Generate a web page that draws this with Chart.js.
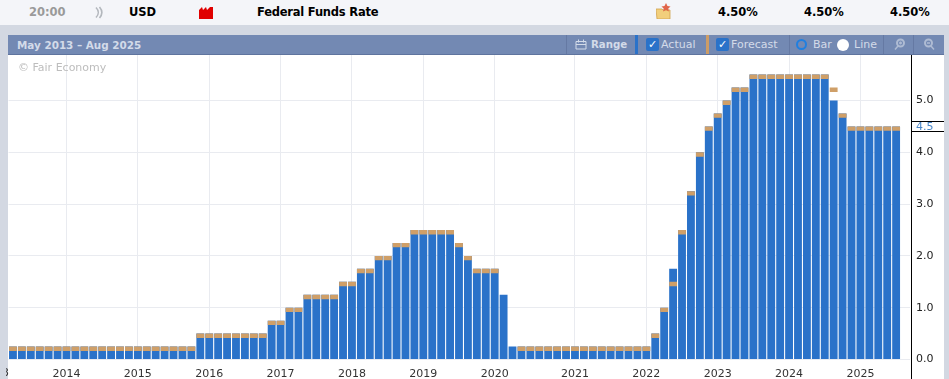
<!DOCTYPE html>
<html><head><meta charset="utf-8">
<script src="https://cdn.jsdelivr.net/npm/chart.js@4"></script>
<style>
html,body{margin:0;padding:0;width:949px;height:379px;overflow:hidden;background:#d3d8e2;font-family:"DejaVu Sans",sans-serif}
.abs{position:absolute;white-space:nowrap}
#top{left:0;top:0;width:949px;height:25px;background:#f4f5f9}
.t{top:5px;font-size:11.5px;font-weight:bold;color:#000;line-height:14px}
#bar{left:8px;top:35px;width:936px;height:19px;background:#7389b3;border-bottom:1px solid #5f749e}
.h{top:37px;font-size:11px;line-height:16px;color:#d3dbe9}
.sep{top:35px;width:1px;height:19px;background:#6579a3}
.cb{top:38px;width:13px;height:13px;background:#2a72c9;border-radius:2px;color:#fff;font-size:11px;line-height:13px;text-align:center;font-weight:bold}
#panel{left:8px;top:55px;width:936px;height:324px;background:#fff}
#wrap{left:8px;top:55px;width:936px;height:324px}
#axisline{left:911px;top:55px;width:1px;height:324px;background:#000}
#clip{left:6px;top:366px;width:3px;height:14px;overflow:hidden;font-size:11px;line-height:14px;color:#333}
#clip span{position:absolute;right:0;top:0}
#wm{left:18px;top:61px;font-size:11px;line-height:14px;color:#bdbdbd}
</style></head><body>
<div class="abs" id="top"></div>
<div class="abs t" style="left:29px;color:#9a9a9a">20:00</div>
<svg class="abs" style="left:94px;top:6px" width="10" height="13" viewBox="0 0 10 13"><path d="M2 1.500c3 3 3 7 0 10M5.500 1c3 3.500 3 7.500 0 11" fill="none" stroke="#b3b7bd" stroke-width="1.600"/></svg>
<div class="abs t" style="left:129px">USD</div>
<svg class="abs" style="left:199px;top:6px" width="15" height="13" viewBox="0 0 15 13"><path d="M0 13V4l3-3 1 3 3-3 1 3 3-3 1 0 2 0V13z" fill="#e00000"/></svg>
<div class="abs t" style="left:257px;letter-spacing:-0.22px">Federal Funds Rate</div>
<svg class="abs" style="left:656px;top:2px" width="16" height="17" viewBox="0 0 16 17"><path d="M0 7h6l1 1h7v9H1z" fill="#f2cf7c" stroke="#d0a24e" stroke-width=".8"/><path d="M10 1l1.500 3 3 .4-2.200 2 .6 3-2.900-1.500-2.900 1.500.6-3-2.200-2 3-.4z" fill="#e0654a"/></svg>
<div class="abs t" style="left:718px">4.50%</div>
<div class="abs t" style="left:804px">4.50%</div>
<div class="abs t" style="left:890px">4.50%</div>

<div class="abs" id="bar"></div>
<div class="abs h" style="left:17px;font-weight:bold;font-size:10.4px">May 2013 – Aug 2025</div>
<div class="abs sep" style="left:566px"></div>
<svg class="abs" style="left:575px;top:38px" width="12" height="12" viewBox="0 0 12 12"><path d="M1 3.500h10v7.500H1zM1 6.500h10M3.500 1.500v3M8.500 1.500v3" fill="none" stroke="#d3dbe9" stroke-width="1"/></svg>
<div class="abs h" style="left:591px;font-weight:bold;font-size:10.2px">Range</div>
<div class="abs" style="left:635px;top:35px;width:3px;height:19px;background:#2a72c9"></div>
<div class="abs cb" style="left:646px">✓</div>
<div class="abs h" style="left:661px">Actual</div>
<div class="abs" style="left:706px;top:35px;width:3px;height:19px;background:#cc9c66"></div>
<div class="abs cb" style="left:716px">✓</div>
<div class="abs h" style="left:731px">Forecast</div>
<div class="abs sep" style="left:789px"></div>
<div class="abs" style="left:796px;top:39px;width:7px;height:7px;border:2.500px solid #1f7fe0;border-radius:50%;background:#7389b3"></div>
<div class="abs h" style="left:813px">Bar</div>
<div class="abs" style="left:837px;top:39px;width:12px;height:12px;border-radius:50%;background:#fff"></div>
<div class="abs h" style="left:854px">Line</div>
<div class="abs sep" style="left:883px"></div>
<div class="abs sep" style="left:913px"></div>
<svg class="abs" style="left:893px;top:38px" width="13" height="13" viewBox="0 0 13 13"><circle cx="7.500" cy="5" r="3.500" fill="none" stroke="#aebbd3" stroke-width="2"/><path d="M5 8l-3 3.500M6 5h3M7.500 3.500v3" stroke="#aebbd3" stroke-width="1.500"/></svg>
<svg class="abs" style="left:923px;top:38px" width="13" height="13" viewBox="0 0 13 13"><circle cx="5.500" cy="5" r="3.500" fill="none" stroke="#aebbd3" stroke-width="2"/><path d="M8 8l3 3.500M4 5h3" stroke="#aebbd3" stroke-width="1.500"/></svg>

<div class="abs" id="panel"></div>
<div class="abs" id="wrap"><canvas id="c" width="936" height="324" style="display:block;width:936px;height:324px"></canvas></div>
<div class="abs" id="axisline"></div>
<div class="abs" id="clip"><span>2013</span></div>
<div class="abs" id="wm">© Fair Economy</div>

<script>
// One entry per FOMC meeting, May 2013 – Aug 2025
const actual = [
 0.25,0.25,0.25,0.25,0.25,0.25,0.25,0.25,0.25,0.25,0.25,0.25,0.25,0.25,0.25,0.25,0.25,0.25,0.25,0.25,0.25,
 0.5,0.5,0.5,0.5,0.5,0.5,0.5,0.5,
 0.75,0.75,1,1,
 1.25,1.25,1.25,1.25,
 1.5,1.5,1.75,1.75,2,2,2.25,2.25,
 2.5,2.5,2.5,2.5,2.5,
 2.25,2,1.75,1.75,1.75,1.25,
 0.25,0.25,0.25,0.25,0.25,0.25,0.25,0.25,0.25,0.25,0.25,0.25,0.25,0.25,0.25,0.25,
 0.5,1,1.75,2.5,3.25,4,4.5,4.75,5,5.25,5.25,
 5.5,5.5,5.5,5.5,5.5,5.5,5.5,5.5,5.5,
 5,4.75,
 4.5,4.5,4.5,4.5,4.5,4.5
];
const forecast = [
 0.25,0.25,0.25,0.25,0.25,0.25,0.25,0.25,0.25,0.25,0.25,0.25,0.25,0.25,0.25,0.25,0.25,0.25,0.25,0.25,0.25,
 0.5,0.5,0.5,0.5,0.5,0.5,0.5,0.5,
 0.75,0.75,1,1,
 1.25,1.25,1.25,1.25,
 1.5,1.5,1.75,1.75,2,2,2.25,2.25,
 2.5,2.5,2.5,2.5,2.5,
 2.25,2,1.75,1.75,1.75,null,
 null,0.25,0.25,0.25,0.25,0.25,0.25,0.25,0.25,0.25,0.25,0.25,0.25,0.25,0.25,0.25,
 0.5,1,1.5,2.5,3.25,4,4.5,4.75,5,5.25,5.25,
 5.5,5.5,5.5,5.5,5.5,5.5,5.5,5.5,5.5,
 5.25,4.75,
 4.5,4.5,4.5,4.5,4.5,4.5
];
const yearLabels = {6:'2014',14:'2015',22:'2016',30:'2017',38:'2018',46:'2019',54:'2020',63:'2021',71:'2022',79:'2023',87:'2024',95:'2025'};
const slots = actual.length + 1;
const categories = Array.from({length:slots},(_,i)=>yearLabels[i]||'');
const yMin = 0, yMax = 5.878, yStep = 1;
const latestValue = 4.5;
const markerBand = 0.085;

const GRID = '#e9ebf0';
const latestMarker = {
  id:'latestMarker',
  afterDraw(ch){
    const y = ch.scales.y.getPixelForValue(latestValue), c = ch.ctx, L = ch.width-32, R = ch.width;
    const yy = Math.round(y);
    c.save();
    c.fillStyle='#fff'; c.fillRect(L,yy-5,R-L,10);
    c.fillStyle='#000'; c.fillRect(L,yy-5,R-L,1); c.fillRect(L,yy+5,R-L,1);
    c.fillStyle='#4a86c8'; c.font='11px "DejaVu Sans"'; c.textBaseline='middle'; c.textAlign='left';
    c.fillText(latestValue.toFixed(1),L+4,yy+1);
    c.restore();
  }
};
new Chart(document.getElementById('c'),{
  type:'bar',
  data:{labels:categories,datasets:[
    {label:'Forecast',order:1,data:forecast.map(f=>f==null?null:[f-markerBand,f]),backgroundColor:'#cf9f68',grouped:false,barPercentage:1,categoryPercentage:0.88,borderWidth:0},
    {label:'Actual',order:2,data:actual,backgroundColor:'#2a72c9',grouped:false,barPercentage:1,categoryPercentage:0.88,borderWidth:0}
  ]},
  plugins:[latestMarker],
  options:{
    responsive:false,animation:false,
    layout:{padding:{left:0.5,right:0,top:0,bottom:0}},
    plugins:{legend:{display:false},tooltip:{enabled:false},title:{display:false}},
    scales:{
      x:{
        offset:true,
        grid:{offset:false,drawTicks:false,drawOnChartArea:true,lineWidth:1,color:c=>c.tick&&c.tick.label?GRID:'rgba(0,0,0,0)'},
        border:{display:false},
        ticks:{autoSkip:false,maxRotation:0,minRotation:0,padding:8,color:'#333',font:{family:'"DejaVu Sans"',size:11}},
        afterFit(s){s.height=19.5;s.paddingLeft=0;s.paddingRight=0;}
      },
      y:{
        position:'right',min:yMin,max:yMax,
        grid:{drawTicks:false,color:GRID},
        border:{display:false},
        ticks:{stepSize:yStep,includeBounds:false,padding:6.5,color:'#222',font:{family:'"DejaVu Sans"',size:11},callback:v=>v.toFixed(1)},
        afterFit(s){s.width=34.5;s.paddingTop=0;s.paddingBottom=0;}
      }
    }
  }
});
</script>
</body></html>
